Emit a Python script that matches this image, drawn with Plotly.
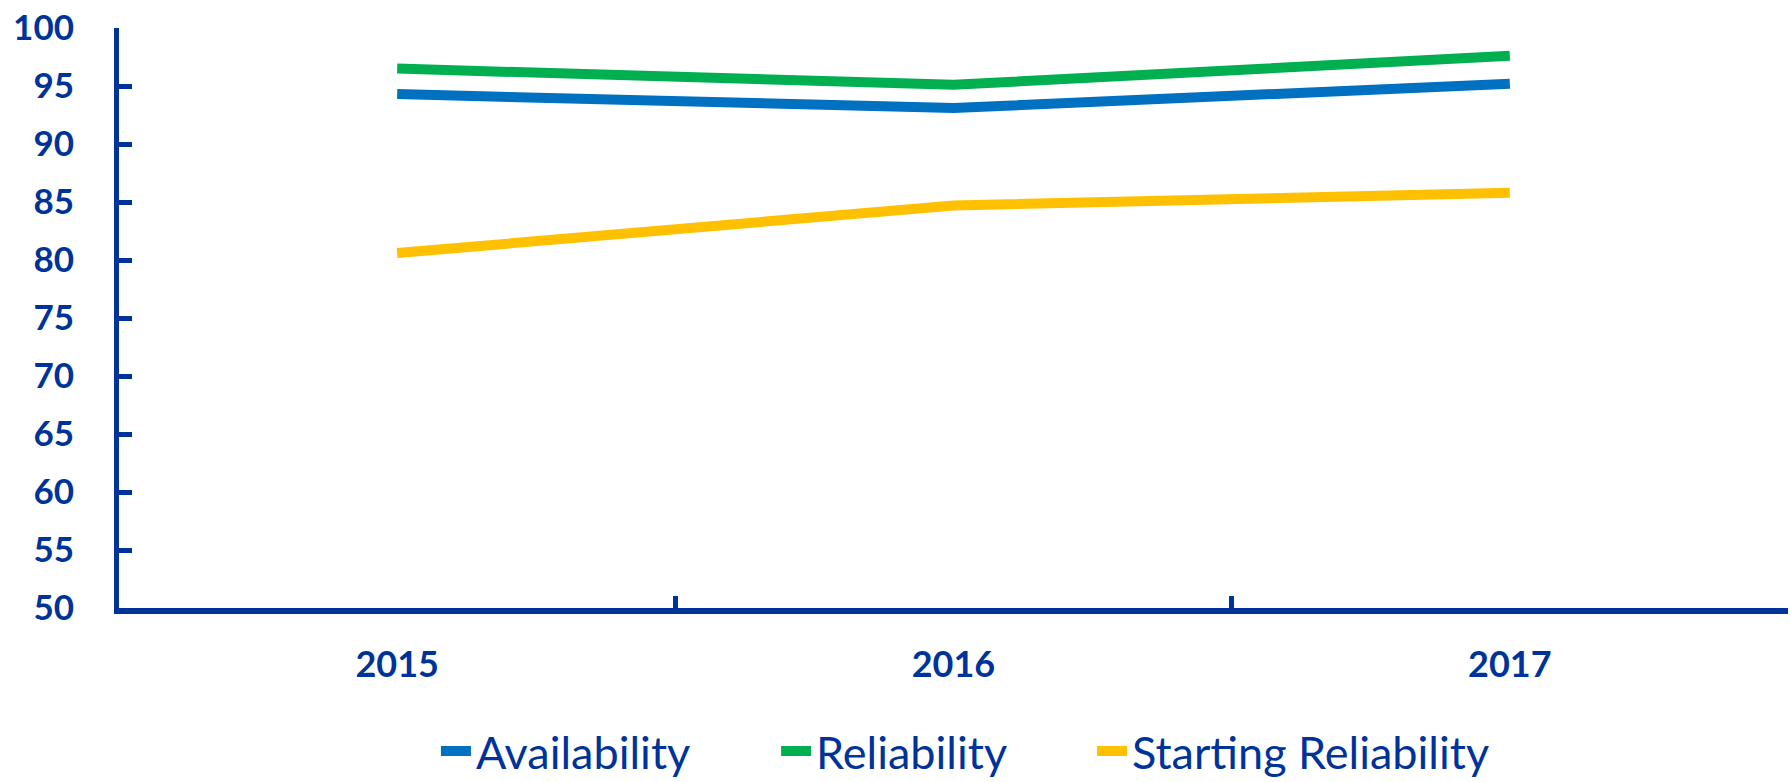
import plotly.graph_objects as go

years = ["2015", "2016", "2017"]
availability = [94.3, 93.1, 95.2]
reliability = [96.5, 95.1, 97.6]
starting_reliability = [80.6, 84.7, 85.8]

series_names = ["Availability", "Reliability", "Starting Reliability"]
series_values = [availability, reliability, starting_reliability]
series_colors = ["#0070C0", "#00B050", "#FFC000"]

y_ticks = [50, 55, 60, 65, 70, 75, 80, 85, 90, 95, 100]

AXIS = "#003399"
legend_ids = ["legend", "legend2", "legend3"]
legend_x = [0.1899, 0.3937, 0.5830]

fig = go.Figure()
for name, vals, col, lid in zip(series_names, series_values, series_colors, legend_ids):
    fig.add_trace(go.Scatter(
        x=years, y=vals, name=name, mode="lines",
        line=dict(color=col, width=10), legend=lid,
    ))

legend_style = dict(
    orientation="h", xanchor="left", yanchor="top", y=-0.185,
    font=dict(family="Lato", size=45, color=AXIS),
    bgcolor="rgba(0,0,0,0)",
)
legends = {lid: dict(legend_style, x=lx) for lid, lx in zip(legend_ids, legend_x)}

fig.update_layout(
    width=1790, height=782,
    paper_bgcolor="white", plot_bgcolor="white",
    margin=dict(l=119, r=2, t=28, b=174, autoexpand=False),
    showlegend=True,
    xaxis=dict(
        type="category", range=[-0.5, 2.5], automargin=False,
        showline=True, linecolor=AXIS, linewidth=6,
        ticks="inside", tickson="boundaries", ticklen=12, tickwidth=5, tickcolor=AXIS,
        showgrid=False, zeroline=False,
        tickfont=dict(family="Lato", size=36, color=AXIS, weight="bold"),
        ticklabelstandoff=20,
    ),
    yaxis=dict(
        range=[50, 100], tickvals=y_ticks, automargin=False,
        showline=True, linecolor=AXIS, linewidth=5,
        ticks="inside", ticklen=13, tickwidth=5, tickcolor=AXIS,
        showgrid=False, zeroline=False,
        tickfont=dict(family="Lato", size=35, color=AXIS, weight="bold"),
        ticklabelstandoff=33, ticklabeloverflow="allow",
    ),
    **legends,
)

# remove the default 8px page margin so the 1790x782 figure fills the window exactly
fig.write_html(
    "out.html",
    config={"displayModeBar": False},
    post_script="document.body.style.margin='0';document.body.style.overflow='hidden';",
)
